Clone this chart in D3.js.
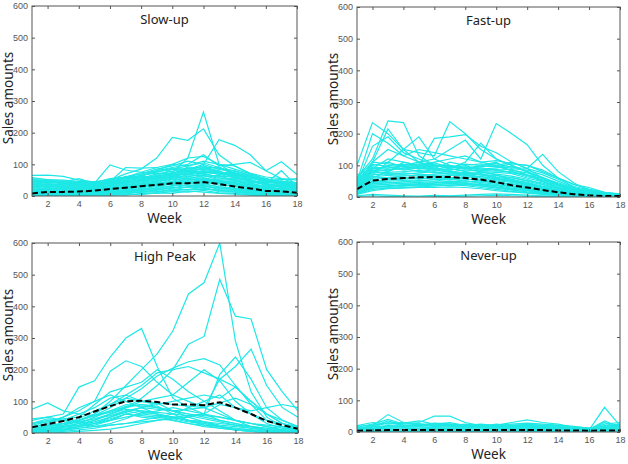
<!DOCTYPE html>
<html>
<head>
<meta charset="utf-8">
<script src="https://cdn.jsdelivr.net/npm/d3@7"></script>
<style>
    body { margin: 0; background: #fff; }
    .tick text { font-family: "Liberation Sans Narrow", "Liberation Sans", Arial, sans-serif; font-size: 9px; fill: #555; }
    .title, .axis-label { font-family: "Noto Sans", "Open Sans", sans-serif; fill: #222; }
</style>
</head>
<body>
<svg id="chart" width="628" height="464"></svg>
<script>
// weeks on the x axis
let weeks = d3.range(1, 19);
let xTicks = [2, 4, 6, 8, 10, 12, 14, 16, 18];
let yTicks = [0, 100, 200, 300, 400, 500, 600];

// Slow-up cluster, one row per product (weeks 1..18)
let slowUpSeries = [
    [22,25,24,28,30,38,50,62,80,100,120,265,100,70,50,38,30,25],
    [30,32,30,35,38,50,70,85,120,185,176,212,130,95,70,50,40,32],
    [35,38,36,40,42,55,60,70,85,95,110,100,178,160,130,80,108,68],
    [40,45,40,35,40,98,82,75,70,72,80,85,75,70,60,45,40,35],
    [65,66,62,50,45,40,45,50,60,70,80,75,70,65,55,50,52,55],
    [45,48,44,42,45,50,60,70,80,90,100,130,95,100,106,80,55,40],
    [30,32,30,32,35,45,55,65,75,85,95,105,90,70,60,40,80,30],
    [50,52,45,55,40,45,90,88,90,75,120,125,100,85,70,55,45,40],
    [20,22,25,30,35,40,60,75,90,100,95,110,100,95,72,60,55,50],
    [48,45,42,38,44,52,58,56,70,78,88,82,86,72,58,52,42,38],
    [40,46,38,42,36,48,54,62,60,74,72,90,78,64,60,46,36,30],
    [52,40,44,34,40,42,60,52,66,64,82,76,70,68,50,42,40,26],
    [30,38,34,40,30,44,46,58,54,70,66,74,80,56,52,36,32,28],
    [36,28,30,26,38,34,48,44,60,58,76,68,62,60,44,40,26,22],
    [24,34,26,30,28,40,38,50,48,62,60,72,58,54,40,30,28,20],
    [28,22,30,22,32,28,42,40,56,52,68,60,66,46,42,28,22,24],
    [18,26,20,26,22,34,32,46,42,58,54,64,52,50,34,32,20,16],
    [22,16,24,18,28,24,38,34,50,46,60,56,50,40,36,22,24,14],
    [14,20,14,22,16,30,28,40,38,52,50,58,46,44,28,26,16,18],
    [16,12,18,14,24,20,32,30,44,40,56,48,44,34,30,18,18,10],
    [10,16,10,18,12,26,22,36,32,46,44,52,40,38,24,20,12,12],
    [12,8,14,10,20,16,28,24,38,36,48,42,38,30,22,14,14,8],
    [6,12,8,14,10,20,18,30,28,40,38,46,34,32,18,16,8,8],
    [8,6,10,8,14,12,22,20,32,30,42,36,30,24,18,10,10,6],
    [4,8,4,10,6,16,14,24,22,34,32,40,28,26,14,12,6,4],
    [5,3,6,5,10,8,18,16,26,24,36,30,24,20,12,8,6,5],
    [2,5,2,6,4,12,10,20,18,28,26,34,20,18,10,8,3,2],
    [3,1,4,2,6,5,14,12,20,18,30,24,18,14,8,4,4,2],
    [1,2,1,3,2,8,6,14,12,22,20,28,14,12,6,5,2,1],
    [0,1,0,1,1,4,3,8,8,14,12,18,10,8,4,2,1,0],
    [2,0,2,0,3,2,6,4,10,8,16,12,8,6,3,1,2,1],
    [44,50,46,36,42,38,62,60,64,84,80,96,74,74,62,48,44,34],
    [56,42,48,44,34,50,50,66,72,68,92,86,92,66,54,56,38,30],
    [34,44,40,32,46,36,56,64,76,88,84,100,84,78,64,44,48,36],
    [26,30,28,24,26,32,44,48,58,66,70,80,72,62,48,38,34,26],
    [38,34,36,30,34,46,40,54,62,60,78,72,76,58,46,34,30,32],
    [14,18,16,12,18,22,24,32,36,44,46,50,48,36,32,24,20,14],
    [20,14,18,16,14,18,26,28,34,38,40,44,42,42,26,20,16,20],
    [32,26,22,28,24,30,36,38,46,56,62,66,56,52,38,28,30,18],
    [9,11,7,12,8,14,12,18,24,26,28,32,26,22,16,12,9,10],
    [42,36,32,34,30,36,44,46,52,62,70,78,68,58,46,38,34,28],
    [6,4,6,4,8,6,10,12,14,16,20,22,18,14,10,6,5,3],
    [58,52,50,46,44,40,48,56,62,72,86,92,88,80,66,50,46,42],
    [16,22,20,24,20,22,30,34,40,42,52,54,46,48,34,24,22,16]
];
let slowUpMean = [8,13,13,14,17,22,26,31,35,40,40,44,38,30,24,16,15,10];

// Fast-up cluster
let fastUpSeries = [
    [100,235,200,150,110,90,80,70,60,55,50,40,30,20,12,8,5,4],
    [60,120,240,235,130,100,90,80,70,60,50,40,30,20,12,8,5,3],
    [40,110,215,150,190,120,100,90,80,70,55,40,30,18,10,6,4,3],
    [30,70,110,150,140,130,238,200,150,120,100,80,50,30,15,8,5,3],
    [20,60,80,100,110,120,150,180,120,232,200,165,100,60,30,15,8,4],
    [30,90,120,110,100,185,190,197,160,140,110,90,60,35,20,10,6,3],
    [25,80,100,95,100,110,120,130,110,100,110,90,135,80,45,20,10,5],
    [45,160,190,140,120,100,90,110,170,120,100,80,60,40,20,12,6,4],
    [35,110,150,130,150,140,130,120,110,115,105,100,80,60,40,30,15,8],
    [50,200,170,130,110,100,95,90,100,110,80,70,50,30,18,10,6,4],
    [60,110,105,100,105,95,100,90,95,100,90,85,70,50,30,20,10,8],
    [55,100,110,95,90,100,92,98,88,92,96,80,60,45,28,16,10,6],
    [50,95,90,100,88,92,86,90,92,84,88,70,58,38,24,14,8,6],
    [45,88,95,85,92,84,90,82,86,88,76,68,50,36,22,14,8,5],
    [40,80,85,90,80,86,78,86,80,78,74,60,48,30,20,12,7,5],
    [38,76,78,80,84,76,82,74,78,72,66,56,40,28,18,10,6,4],
    [35,70,74,72,76,80,72,78,70,68,60,50,38,24,16,10,6,4],
    [32,64,68,70,66,72,76,68,72,62,56,44,32,22,14,8,5,3],
    [30,60,62,66,70,64,68,72,64,58,50,40,30,20,12,8,5,3],
    [28,56,60,58,62,66,60,64,60,52,46,36,26,18,10,6,4,2],
    [25,50,54,56,58,60,62,56,54,48,40,32,24,16,10,6,4,2],
    [22,46,50,52,50,56,54,58,50,44,36,28,20,14,8,5,3,2],
    [20,42,44,48,52,50,56,50,46,40,32,24,18,12,8,4,3,1],
    [18,38,40,44,46,48,46,52,42,36,28,22,16,10,6,4,2,1],
    [15,32,36,38,42,44,48,44,38,32,26,20,14,10,6,3,2,1],
    [12,28,30,34,36,40,42,40,34,28,22,16,12,8,5,3,1,1],
    [10,24,28,30,32,34,38,36,30,24,18,14,10,6,4,2,1,0],
    [8,20,26,28,30,30,32,30,26,20,16,12,8,5,3,2,1,0],
    [4,8,6,4,3,5,4,6,8,10,8,6,4,3,2,1,0,0],
    [2,4,2,1,0,1,2,3,4,5,4,3,2,1,1,0,0,0],
    [70,90,80,110,100,90,110,100,105,95,105,100,85,60,40,25,15,10],
    [48,104,96,88,94,102,96,88,98,96,84,76,62,42,26,18,12,8],
    [26,66,58,62,56,60,58,62,66,56,54,46,34,26,16,10,6,4],
    [36,84,70,76,72,68,70,66,74,64,62,52,44,30,20,14,8,5],
    [14,36,32,40,34,38,36,42,40,36,34,26,20,14,8,4,2,1],
    [42,92,86,92,96,88,84,94,84,82,80,64,54,40,26,16,10,6],
    [20,48,46,42,40,44,50,46,52,44,42,34,26,18,12,6,4,2],
    [56,80,100,104,96,108,94,104,100,106,94,90,76,56,34,22,14,8],
    [10,30,34,36,40,38,44,40,36,30,24,20,14,8,6,3,2,1]
];
let fastUpMean = [25,52,57,60,62,63,63,60,55,47,37,30,22,15,9,5,3,3];

// High Peak cluster
let highPeakSeries = [
    [10,20,30,40,60,100,150,200,250,322,439,475,600,290,130,50,20,10],
    [15,20,25,35,45,60,80,110,150,200,280,305,485,369,360,200,130,70],
    [40,50,60,145,165,240,300,330,210,110,80,60,40,30,20,15,10,10],
    [30,35,50,80,100,195,228,210,160,120,100,80,60,40,30,20,15,10],
    [20,25,30,40,55,80,110,140,180,205,225,235,215,150,90,40,20,10],
    [10,15,20,30,40,60,80,100,110,120,160,200,165,100,60,30,15,10],
    [5,10,15,20,30,50,70,80,75,70,75,80,170,210,265,150,80,50],
    [5,8,10,15,25,40,60,70,60,50,55,60,185,240,170,80,40,20],
    [75,95,70,60,55,70,90,85,80,70,60,55,50,40,30,25,20,15],
    [10,15,25,40,60,90,120,150,190,200,210,190,170,145,100,60,30,15],
    [30,40,45,50,90,130,145,160,200,170,130,100,70,40,20,10,5,5],
    [20,30,50,70,100,120,100,80,60,40,30,25,20,15,10,5,5,5],
    [25,35,40,60,80,110,120,100,90,100,110,120,110,145,100,60,30,15],
    [10,20,30,45,70,90,110,100,95,90,85,80,95,110,90,60,40,20],
    [5,10,20,30,50,70,80,90,80,70,60,50,40,30,20,10,5,5],
    [8,12,18,25,40,60,75,70,65,60,55,45,35,25,15,10,5,3],
    [15,20,30,35,45,55,70,60,55,50,40,35,25,20,15,10,8,5],
    [3,5,10,20,30,45,60,55,50,45,35,30,20,15,10,5,3,2],
    [2,4,8,15,20,30,45,65,60,50,40,35,30,25,20,15,10,5],
    [30,45,40,35,30,40,60,50,45,40,30,20,15,10,8,5,5,3],
    [0,2,5,10,15,25,30,40,50,60,80,100,120,80,60,40,30,20],
    [5,8,12,20,30,40,50,60,70,80,70,60,50,40,30,20,10,5],
    [45,50,40,30,20,25,30,35,40,45,50,60,90,80,70,80,90,80],
    [10,15,20,25,35,50,65,80,95,70,50,35,20,10,5,3,2,1],
    [20,25,30,40,55,65,85,90,85,60,40,25,15,10,5,3,2,1],
    [0,0,2,5,8,12,20,30,40,50,40,30,20,10,5,3,2,1]
];
let highPeakMean = [18,28,38,50,68,85,100,102,98,90,90,88,97,80,60,38,25,13];

// Never-up cluster
let neverUpSeries = [
    [10,20,55,30,25,20,22,20,18,15,15,14,12,10,8,6,78,20],
    [15,25,40,25,30,50,50,30,20,18,16,15,14,12,10,8,35,15],
    [8,15,30,20,25,20,20,25,20,22,30,38,30,25,15,10,25,30],
    [20,30,25,28,35,25,22,20,25,20,25,28,25,22,18,12,20,25],
    [12,18,35,22,20,25,30,20,18,25,20,22,20,18,15,10,15,20],
    [5,10,20,15,18,20,18,16,15,16,18,20,18,15,12,8,30,10],
    [15,12,18,20,22,18,15,18,20,22,18,16,15,14,12,10,10,12],
    [10,12,15,16,15,14,12,14,16,15,14,12,12,10,10,8,12,18],
    [8,10,12,12,10,12,10,12,12,10,12,10,10,8,8,6,8,10],
    [5,8,10,8,9,8,9,10,8,9,10,8,8,7,6,5,6,8],
    [3,5,6,6,5,6,6,7,6,6,7,6,5,5,4,3,5,6],
    [2,3,4,3,3,4,4,4,4,4,4,4,3,3,3,2,3,4],
    [1,2,2,2,2,2,2,3,2,2,2,2,2,2,1,1,2,2],
    [0,1,1,1,1,1,1,1,1,1,1,1,1,1,1,0,1,1],
    [18,22,28,30,26,22,24,22,20,20,22,24,22,20,16,12,18,22],
    [12,16,20,18,22,28,26,22,18,16,14,18,16,14,10,8,14,16]
];
let neverUpMean = [4,5,6,6,6,6,6,6,6,6,6,6,6,5,5,4,5,5];

class SalesPanel {

    constructor(svg, box, title, series, mean) {
        this.svg = svg;
        this.box = box;
        this.title = title;
        this.series = series;
        this.mean = mean;

        this.initVis();
    }

    initVis() {
        let vis = this;
        let b = vis.box;

        vis.x = d3.scaleLinear().domain([1, 18]).range([b.left, b.right]);
        vis.y = d3.scaleLinear().domain([0, 600]).range([b.bottom, b.top]);

        vis.g = vis.svg.append("g");

        // clip so lines stay in the box
        let clipId = "clip-" + vis.title.replace(/\W/g, "");
        vis.g.append("clipPath").attr("id", clipId)
            .append("rect")
            .attr("x", b.left).attr("y", b.top)
            .attr("width", b.right - b.left).attr("height", b.bottom - b.top);

        vis.lineGroup = vis.g.append("g").attr("clip-path", "url(#" + clipId + ")");

        vis.line = d3.line()
            .x((d, i) => vis.x(weeks[i]))
            .y(d => vis.y(d));

        vis.drawAxes();
        vis.updateVis();
    }

    drawAxes() {
        let vis = this;
        let b = vis.box;

        // MATLAB style: inward ticks on all four sides
        let bottom = vis.g.append("g")
            .attr("transform", "translate(0," + b.bottom + ")")
            .call(d3.axisBottom(vis.x).tickValues(xTicks).tickSize(-3).tickPadding(5));
        let top = vis.g.append("g")
            .attr("transform", "translate(0," + b.top + ")")
            .call(d3.axisTop(vis.x).tickValues(xTicks).tickSize(-3).tickFormat(""));
        let left = vis.g.append("g")
            .attr("transform", "translate(" + b.left + ",0)")
            .call(d3.axisLeft(vis.y).tickValues(yTicks).tickSize(-3).tickPadding(4));
        let right = vis.g.append("g")
            .attr("transform", "translate(" + b.right + ",0)")
            .call(d3.axisRight(vis.y).tickValues(yTicks).tickSize(-3).tickFormat(""));

        [bottom, top, left, right].forEach(a => {
            a.select(".domain").remove();
            a.selectAll(".tick line").attr("stroke", "#555");
        });

        vis.g.append("rect")
            .attr("x", b.left).attr("y", b.top)
            .attr("width", b.right - b.left).attr("height", b.bottom - b.top)
            .attr("fill", "none")
            .attr("stroke", "#555")
            .attr("stroke-width", 1);

        let cx = (b.left + b.right) / 2;

        vis.g.append("text")
            .attr("class", "title")
            .attr("x", cx).attr("y", b.top + 18)
            .attr("text-anchor", "middle")
            .style("font-size", "13px")
            .text(vis.title);

        vis.g.append("text")
            .attr("class", "axis-label")
            .attr("x", cx).attr("y", b.bottom + 27)
            .attr("text-anchor", "middle")
            .style("font-size", "13.5px")
            .text("Week");

        vis.g.append("text")
            .attr("class", "axis-label")
            .attr("transform", `translate(${b.left - 19}, ${(b.top + b.bottom) / 2 - 3}) rotate(-90)`)
            .attr("text-anchor", "middle")
            .style("font-size", "13.5px")
            .text("Sales amounts");
    }

    updateVis() {
        let vis = this;

        vis.lineGroup.selectAll(".product")
            .data(vis.series)
            .enter()
            .append("path")
            .attr("class", "product")
            .attr("d", vis.line)
            .attr("fill", "none")
            .attr("stroke", "#1ee8e6")
            .attr("stroke-width", 1.2);

        vis.lineGroup.append("path")
            .datum(vis.mean)
            .attr("d", vis.line)
            .attr("fill", "none")
            .attr("stroke", "#000")
            .attr("stroke-width", 2)
            .attr("stroke-dasharray", "6,3");
    }
}

let svg = d3.select("#chart");

new SalesPanel(svg, {left: 32, right: 297, top: 6, bottom: 196}, "Slow-up", slowUpSeries, slowUpMean);
new SalesPanel(svg, {left: 357, right: 620, top: 7, bottom: 197}, "Fast-up", fastUpSeries, fastUpMean);
new SalesPanel(svg, {left: 32, right: 298, top: 243, bottom: 433}, "High Peak", highPeakSeries, highPeakMean);
new SalesPanel(svg, {left: 357, right: 620, top: 242, bottom: 432}, "Never-up", neverUpSeries, neverUpMean);
</script>
</body>
</html>
